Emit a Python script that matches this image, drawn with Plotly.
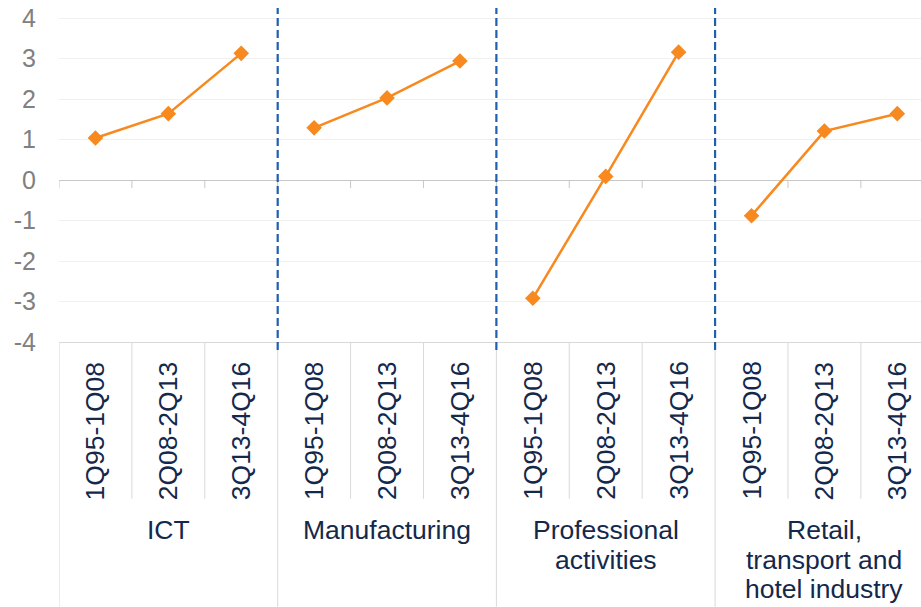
import plotly.graph_objects as go

sectors = ["ICT", "Manufacturing", "Professional activities", "Retail, transport and hotel industry"]
sector_lines = [["ICT"], ["Manufacturing"], ["Professional", "activities"], ["Retail,", "transport and", "hotel industry"]]
periods = ["1Q95-1Q08", "2Q08-2Q13", "3Q13-4Q16"]
values = {
    "ICT": [1.04, 1.64, 3.13],
    "Manufacturing": [1.29, 2.03, 2.94],
    "Professional activities": [-2.92, 0.09, 3.16],
    "Retail, transport and hotel industry": [-0.88, 1.21, 1.64],
}
y_ticks = [-4, -3, -2, -1, 0, 1, 2, 3, 4]

ORANGE = "#F7891F"
NAVY = "#14284B"
GRAY = "#808080"
BLUE = "#1F5FAE"
LINE = "#D9D9D9"
FONT = "Liberation Sans, Arial"

fig = go.Figure()
n = len(periods)
for g, s in enumerate(sectors):
    xs = [g * n + i for i in range(n)]
    fig.add_trace(go.Scatter(
        x=xs, y=values[s], mode="lines+markers",
        line=dict(color=ORANGE, width=2.5),
        marker=dict(symbol="diamond", size=12, color=ORANGE),
        showlegend=False, hoverinfo="skip"))

shapes = []
annotations = []
total = n * len(sectors)
for b in range(total + 1):
    xb = b - 0.5
    is_group = (b % n == 0)
    shapes.append(dict(type="line", xref="x", yref="y", x0=xb, x1=xb, y0=0, y1=-0.2,
                       line=dict(color="#C8C8C8", width=1)))
    shapes.append(dict(type="line", xref="x", yref="paper", x0=xb, x1=xb,
                       y0=0, y1=(-265 / 334.4) if is_group else (-157 / 334.4),
                       line=dict(color=LINE, width=1)))
    if is_group and 0 < b < total:
        shapes.append(dict(type="line", xref="x", yref="paper", x0=xb, x1=xb,
                           y0=-0.024, y1=1.0,
                           line=dict(color=BLUE, width=2.2, dash="8px,4px")))

for g, s in enumerate(sectors):
    for i, p in enumerate(periods):
        annotations.append(dict(x=g * n + i, y=-18 / 334.4, xref="x", yref="paper",
                                text=p, textangle=-90, showarrow=False,
                                xanchor="center", yanchor="top",
                                font=dict(family=FONT, size=26.5, color=NAVY)))
    for k, line_txt in enumerate(sector_lines[g]):
        ypix = 531 + 29.5 * k
        annotations.append(dict(x=g * n + 1, y=-(ypix - 342.3) / 334.4, xref="x", yref="paper",
                                text=line_txt, showarrow=False,
                                xanchor="center", yanchor="middle",
                                font=dict(family=FONT, size=26.5, color=NAVY)))

fig.update_layout(
    width=921, height=607,
    margin=dict(l=59, r=0, t=8, b=265),
    paper_bgcolor="white", plot_bgcolor="white",
    shapes=shapes, annotations=annotations,
    xaxis=dict(range=[-0.5, 11.325], showgrid=False, zeroline=False,
               showticklabels=False, ticks="", showline=True, linecolor=LINE, linewidth=1),
    yaxis=dict(range=[-4, 4.25], tickvals=y_ticks, ticktext=[str(v) for v in y_ticks],
               showgrid=True, gridcolor="#F0F0F0", gridwidth=1,
               zeroline=True, zerolinecolor="#C8C8C8", zerolinewidth=1,
               showline=False, ticks="", ticklabelstandoff=22,
               tickfont=dict(family=FONT, size=25, color=GRAY)),
)

fig.write_html("out.html")
